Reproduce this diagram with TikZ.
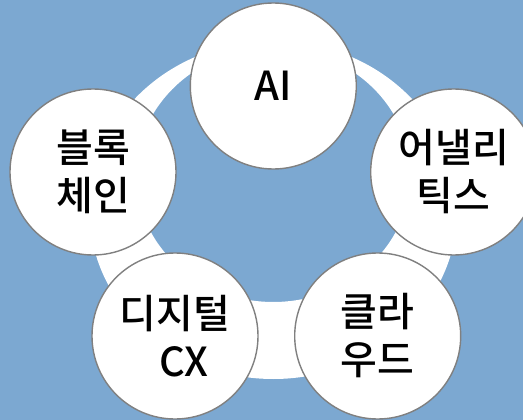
\documentclass[tikz,border=0pt]{standalone}
\usepackage{fontspec}
\setmainfont{Noto Sans CJK KR}[BoldFont={Noto Sans CJK KR Medium}]
\definecolor{bgblue}{RGB}{124,168,209}
\definecolor{rimgray}{RGB}{128,128,128}
\begin{document}
\begin{tikzpicture}[x=1pt,y=-1pt,
  topic/.style={circle, draw=rimgray, line width=1.4pt, fill=white,
    minimum size=166pt, inner sep=0pt, align=center,
    font=\bfseries\fontsize{40}{48}\selectfont, text=black}]
\useasboundingbox (0,0) rectangle (523,420);
\clip (0,0) rectangle (523,420);
\fill[bgblue] (0,0) rectangle (523,420);
% ring behind the circles
\fill[white, even odd rule] (273.3,210) ellipse [x radius=184, y radius=169]
  (273.3,175) ellipse [x radius=137, y radius=127];
\node[topic] (ai) at (273.3,86) {AI};
\node[topic] (analytics) at (453.7,172) {어낼리\\틱스};
\node[topic] (cloud) at (377.7,336) {클라\\우드};
\node[topic] (cx) at (175,336) {디지털\\\hspace*{0.45em}CX};
\node[topic] (block) at (93,172) {블록\\체인};
\end{tikzpicture}
\end{document}
